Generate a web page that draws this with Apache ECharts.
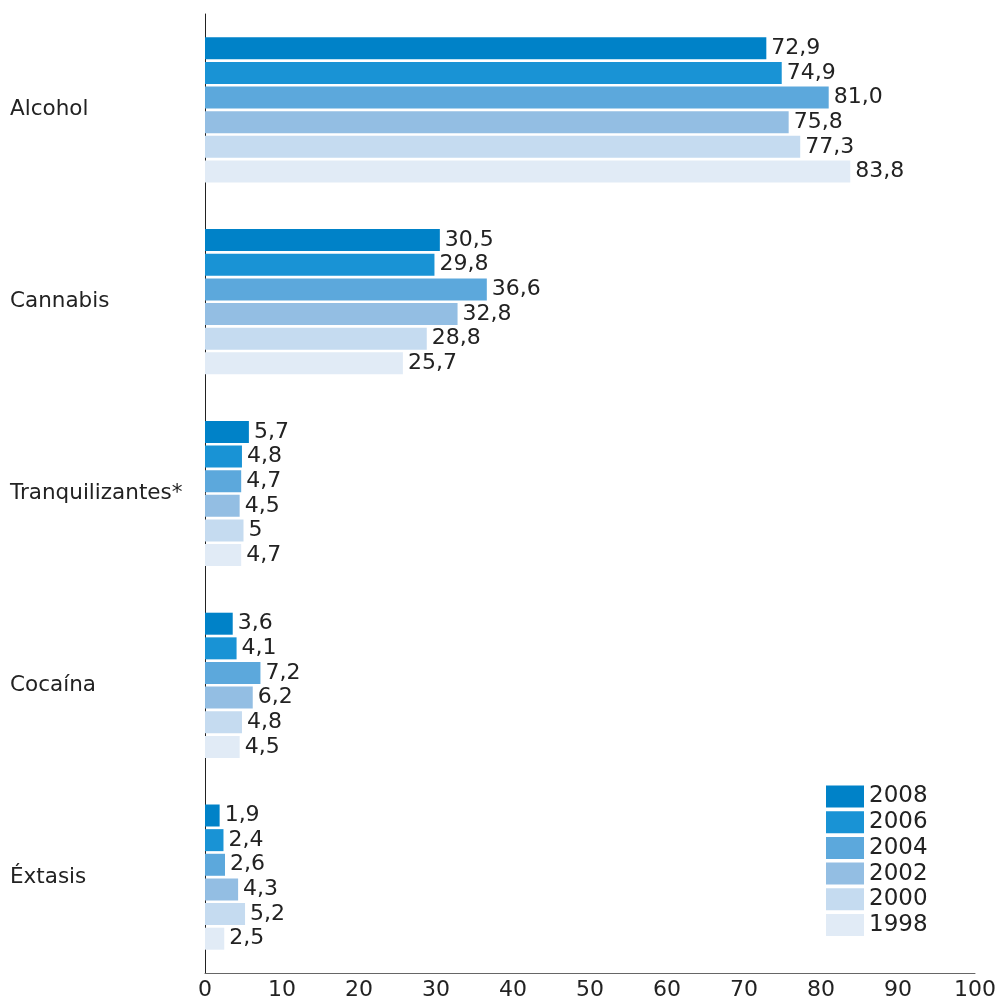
<!DOCTYPE html>
<html>
<head>
<meta charset="utf-8">
<script src="https://cdn.jsdelivr.net/npm/echarts@6/dist/echarts.min.js"></script>
<style>
  html, body { margin: 0; padding: 0; background: #fff; }
  #chart { width: 1000px; height: 1001px; }
</style>
</head>
<body>
<div id="chart"></div>
<script>
const categories = ['Alcohol', 'Cannabis', 'Tranquilizantes*', 'Cocaína', 'Éxtasis']
const years = ['2008', '2006', '2004', '2002', '2000', '1998']
const v2008 = [72.9, 30.5, 5.7, 3.6, 1.9]
const v2006 = [74.9, 29.8, 4.8, 4.1, 2.4]
const v2004 = [81.0, 36.6, 4.7, 7.2, 2.6]
const v2002 = [75.8, 32.8, 4.5, 6.2, 4.3]
const v2000 = [77.3, 28.8, 5, 4.8, 5.2]
const v1998 = [83.8, 25.7, 4.7, 4.5, 2.5]
// etiquetas tal como aparecen (81,0 y 5)
const l2008 = ['72,9', '30,5', '5,7', '3,6', '1,9']
const l2006 = ['74,9', '29,8', '4,8', '4,1', '2,4']
const l2004 = ['81,0', '36,6', '4,7', '7,2', '2,6']
const l2002 = ['75,8', '32,8', '4,5', '6,2', '4,3']
const l2000 = ['77,3', '28,8', '5', '4,8', '5,2']
const l1998 = ['83,8', '25,7', '4,7', '4,5', '2,5']
const xTicks = [0, 10, 20, 30, 40, 50, 60, 70, 80, 90, 100]

const values = [v2008, v2006, v2004, v2002, v2000, v1998]
const labels = [l2008, l2006, l2004, l2002, l2000, l1998]
const colors = ['#0082c8', '#1993d5', '#5ca8dc', '#93bee3', '#c5dbf0', '#e1ebf6']
const font = 'Verdana, "DejaVu Sans", sans-serif'

const chart = echarts.init(document.getElementById('chart'))
chart.setOption({
	animation: false,
	textStyle: { fontFamily: font },
	grid: {
		top: 14,
		bottom: 26,
		left: 205,
		right: 25,
		containLabel: false
	},
	legend: {
		orient: 'vertical',
		left: 826,
		top: 785,
		padding: 0,
		icon: 'rect',
		itemWidth: 38,
		itemHeight: 22,
		itemGap: 2.7,
		data: years,
		textStyle: { fontSize: 23, lineHeight: 22, color: '#222', fontFamily: font }
	},
	xAxis: {
		type: 'value',
		min: xTicks[0],
		max: xTicks[xTicks.length - 1],
		interval: 10,
		axisLine: { show: true, lineStyle: { color: '#666', width: 1 } },
		axisTick: { show: false },
		splitLine: { show: false },
		axisLabel: { fontSize: 22, color: '#222', margin: 6 }
	},
	yAxis: {
		type: 'category',
		data: categories,
		inverse: true,
		axisLine: { show: true, lineStyle: { color: '#222', width: 1 } },
		axisTick: { show: false },
		axisLabel: { fontSize: 21.5, color: '#222', align: 'left', margin: 195 }
	},
	series: years.map((y, i) => ({
		name: y,
		type: 'bar',
		data: values[i],
		barWidth: 22,
		barGap: '12%',
		itemStyle: { color: colors[i] },
		label: {
			show: true,
			position: 'right',
			distance: 5,
			fontSize: 22,
			color: '#222',
			formatter: p => labels[i][p.dataIndex]
		}
	}))
})
</script>
</body>
</html>
